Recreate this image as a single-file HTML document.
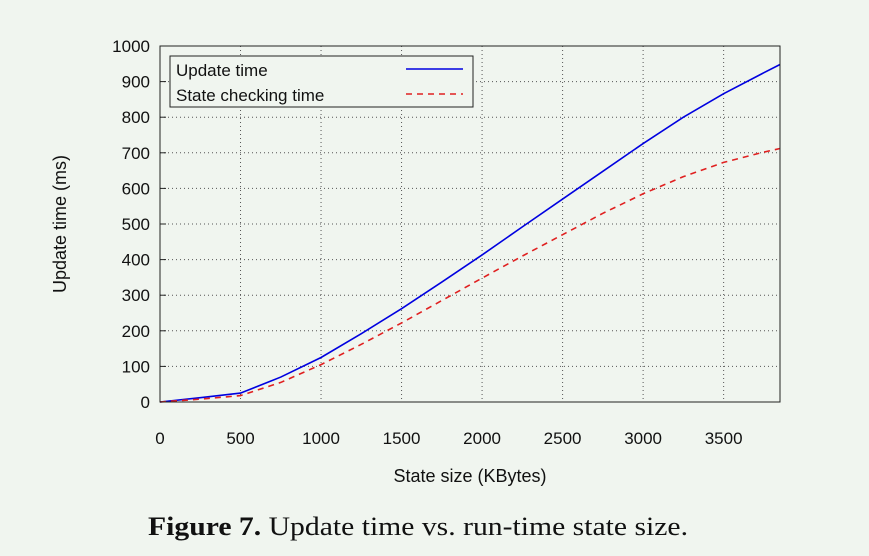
<!DOCTYPE html>
<html><head><meta charset="utf-8"><style>
body{margin:0;background:#f0f5ef;}
svg{display:block;font-family:"Liberation Sans",sans-serif;}
</style></head><body>
<svg id="chart" width="869" height="556" viewBox="0 0 869 556">
<rect width="869" height="556" fill="#f0f5ef"/>
<g id="grid"></g>
<g id="ticks"></g>
<g id="series"></g>
<rect x="160" y="46" width="620" height="356" fill="none" stroke="#222" stroke-width="1"/>
<g>
<rect x="170" y="56" width="303" height="51" fill="#f0f5ef" stroke="#222" stroke-width="1"/>
<text x="176" y="76" font-size="17" fill="#111">Update time</text>
<line x1="406" y1="69" x2="463" y2="69" stroke="#0000e0" stroke-width="1.6"/>
<text x="176" y="101" font-size="17" fill="#111">State checking time</text>
<line x1="406" y1="94" x2="463" y2="94" stroke="#e02020" stroke-width="1.6" stroke-dasharray="6,5"/>
</g>
<text x="470" y="482" font-size="18" text-anchor="middle" fill="#111">State size (KBytes)</text>
<text transform="translate(66,224) rotate(-90)" font-size="18" text-anchor="middle" fill="#111">Update time (ms)</text>
<text x="148" y="535" font-size="26" textLength="540" lengthAdjust="spacingAndGlyphs" fill="#111" font-family="Liberation Serif,serif"><tspan font-weight="bold">Figure 7.</tspan>  Update time vs. run-time state size.</text>
</svg>
<script>
const xs=[0,250,500,750,1000,1250,1500,1750,2000,2250,2500,2750,3000,3250,3500,3750,3850];
const updateTime=[0,12,25,70,125,192,262,337,413,492,570,648,726,800,866,925,948];
const checkTime=[0,8,18,55,105,162,222,285,348,410,470,530,585,633,673,702,712];
const xTicks=[0,500,1000,1500,2000,2500,3000,3500];
const yTicks=[0,100,200,300,400,500,600,700,800,900,1000];
const X=v=>160+v*620/3850, Y=v=>402-v*0.356;
const NS="http://www.w3.org/2000/svg";
function mk(t,a,p){const e=document.createElementNS(NS,t);for(const k in a)e.setAttribute(k,a[k]);p.appendChild(e);return e;}
const grid=document.getElementById('grid'),ticks=document.getElementById('ticks'),series=document.getElementById('series');
xTicks.forEach(v=>{
 if(v>0){const g=mk('line',{x1:X(v),x2:X(v),y1:46,y2:402,stroke:'#555','stroke-width':1,'stroke-dasharray':'1,3'},grid);
 
 }
 const t=mk('text',{x:X(v),y:444,'font-size':17,'text-anchor':'middle',fill:'#111'},ticks);t.textContent=v;
 
 
});
yTicks.forEach(v=>{
 if(v>0&&v<1000){const g=mk('line',{x1:160,x2:780,y1:Y(v),y2:Y(v),stroke:'#555','stroke-width':1,'stroke-dasharray':'1,3'},grid);
 
 }
 const m=mk('line',{x1:160,x2:166,y1:Y(v),y2:Y(v),stroke:'#222'},ticks);
 
 
 const t=mk('text',{x:150,y:Y(v)+6,'font-size':17,'text-anchor':'end',fill:'#111'},ticks);t.textContent=v;
 
 
});
const p1=mk('polyline',{points:xs.map((x,i)=>X(x)+','+Y(updateTime[i])).join(' '),fill:'none',stroke:'#0000e0','stroke-width':1.6},series);


const p2=mk('polyline',{points:xs.map((x,i)=>X(x)+','+Y(checkTime[i])).join(' '),fill:'none',stroke:'#e02020','stroke-width':1.6,'stroke-dasharray':'6,5'},series);


</script>
</body></html>
